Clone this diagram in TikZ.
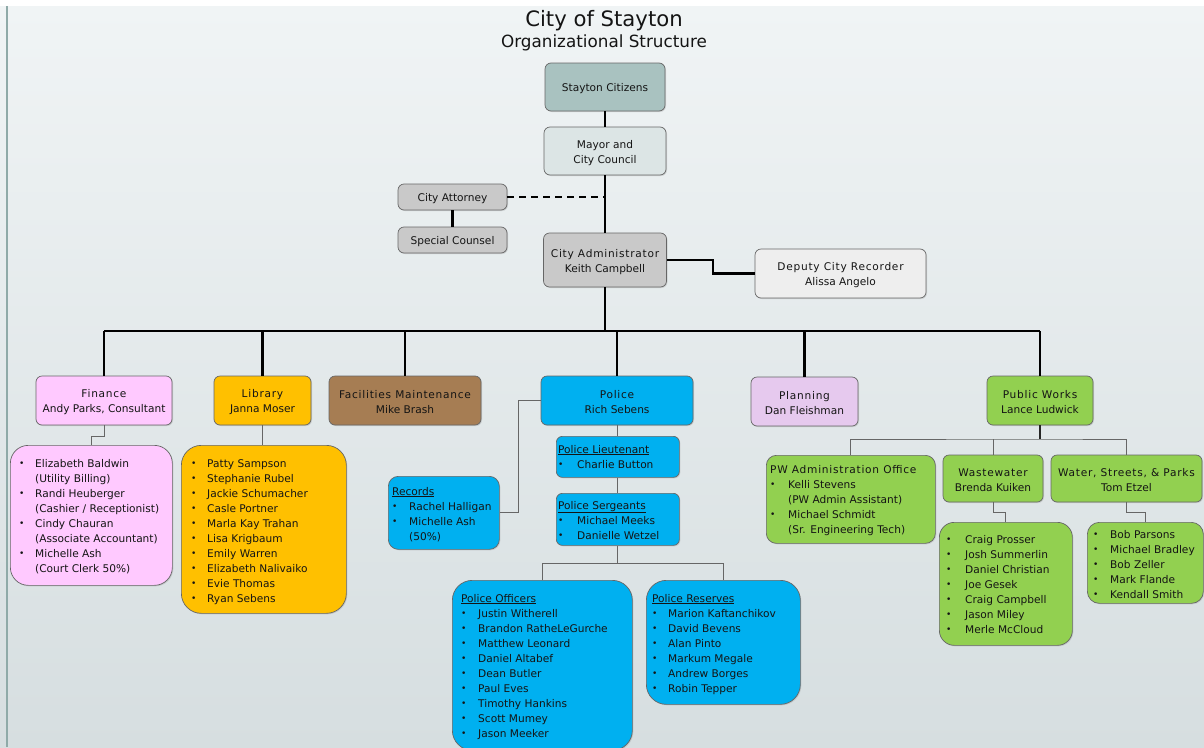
\documentclass[tikz,border=0pt]{standalone}
\usepackage{fontspec}
\setmainfont{DejaVu Sans}
\newfontfamily\hd{DejaVu Sans}[LetterSpace=7]
\usetikzlibrary{shadows,calc}
\definecolor{cCit}{HTML}{A9C2C0}
\definecolor{cMay}{HTML}{DCE5E5}
\definecolor{cGry}{HTML}{C9C9C9}
\definecolor{cDep}{HTML}{EEEEEE}
\definecolor{cFin}{HTML}{FFC9FF}
\definecolor{cLib}{HTML}{FFC000}
\definecolor{cFac}{HTML}{A67D53}
\definecolor{cPol}{HTML}{00B0F0}
\definecolor{cPln}{HTML}{E6C9EE}
\definecolor{cPw}{HTML}{92D050}
\definecolor{bgTop}{HTML}{F0F4F5}
\definecolor{bgBot}{HTML}{D6DEE0}
\definecolor{edgeC}{HTML}{8FAAA8}
\newlength\bw
\newcommand\bi[1]{\makebox[\bw][l]{\raisebox{0.4pt}{\fontsize{9}{9}\selectfont•}}#1}
\newcommand\ci[1]{\hspace*{\bw}#1}
\newcommand\fs{\fontsize{10.6}{15}\selectfont}
\newcommand\tw[2]{\rule{0pt}{12pt}#1\\#2}
\tikzset{
  box/.style={draw=black!60, line width=0.7pt, rounded corners=6pt, inner sep=0pt,
    align=center, font=\fs, text=black!92,
    drop shadow={shadow xshift=1pt, shadow yshift=-1pt, opacity=0.25}},
  lbox/.style={box, rounded corners=#1, anchor=north west},
  ltext/.style={inner sep=0pt, anchor=base west, font=\fs, text=black!92},
  conn/.style={line width=2.2pt, black},
  tconn/.style={line width=0.9pt, black!60},
}
\begin{document}
\begin{tikzpicture}[x=1pt,y=-1pt]
\useasboundingbox (0,0) rectangle (1204,747);
\fill[white] (0,0) rectangle (1204,747);
\shade[top color=bgTop, bottom color=bgBot] (0,6) rectangle (1204,747);
\draw[edgeC, line width=1.6pt] (7,6) -- (7,747);

% title
\node[anchor=base, font=\fontsize{21.2}{25}\selectfont, text=black!92] (t1) at (604,26) {City of Stayton};
\node[anchor=base, font=\fontsize{16.8}{20}\selectfont, text=black!92] (t2) at (604,47) {Organizational Structure};

% top boxes
\node[box, fill=cCit, minimum width=120pt, minimum height=48pt] (cit) at (605,87) {\rule{0pt}{12pt}Stayton Citizens};
\node[box, fill=cMay, minimum width=122pt, minimum height=48pt] (may) at (605,151) {\tw{Mayor and}{City Council}};
\node[box, fill=cGry, minimum width=109pt, minimum height=26pt] (atty) at (452.5,197) {\rule{0pt}{12pt}City Attorney};
\node[box, fill=cGry, minimum width=109pt, minimum height=26pt] (spc) at (452.5,240) {\rule{0pt}{12pt}Special Counsel};
\node[box, fill=cGry, minimum width=123pt, minimum height=54pt] (adm) at (605,260) {\tw{\hd City Administrator}{Keith Campbell}};
\node[box, fill=cDep, minimum width=171pt, minimum height=49pt] (dep) at (840.5,273.5) {\tw{\hd Deputy City Recorder}{Alissa Angelo}};

% departments
\node[box, fill=cFin, minimum width=136pt, minimum height=49pt] (fin) at (104,400.5) {\tw{\hd Finance}{Andy Parks, Consultant}};
\node[box, fill=cLib, minimum width=97pt, minimum height=49pt] (lib) at (262.5,400.5) {\tw{\hd Library}{Janna Moser}};
\node[box, fill=cFac, minimum width=152pt, minimum height=49pt] (fac) at (405,400.5) {\tw{\hd Facilities Maintenance}{Mike Brash}};
\node[box, fill=cPol, minimum width=152pt, minimum height=49pt] (pol) at (617,400.5) {\tw{\hd Police}{Rich Sebens}};
\node[box, fill=cPln, minimum width=107pt, minimum height=49pt] (pln) at (804.5,401.5) {\tw{\hd Planning}{Dan Fleishman}};
\node[box, fill=cPw, minimum width=106pt, minimum height=49pt] (pw) at (1040,400.5) {\tw{\hd Public Works}{Lance Ludwick}};

% finance list
\node[lbox=18pt, fill=cFin, minimum width=162pt, minimum height=140pt] (finl) at (10,445) {};
\node[ltext] (finlt) at ($(finl.north west)+(9,22)$) {\setlength\bw{16pt}\begin{tabular}[t]{@{}l@{}}
\bi{Elizabeth Baldwin}\\ \ci{(Utility Billing)}\\ \bi{Randi Heuberger}\\ \ci{(Cashier / Receptionist)}\\
\bi{Cindy Chauran}\\ \ci{(Associate Accountant)}\\ \bi{Michelle Ash}\\ \ci{(Court Clerk 50\%)}\end{tabular}};

% library list
\node[lbox=20pt, fill=cLib, minimum width=165pt, minimum height=168pt] (libl) at (181,445) {};
\node[ltext] (liblt) at ($(libl.north west)+(10,22)$) {\setlength\bw{16pt}\begin{tabular}[t]{@{}l@{}}
\bi{Patty Sampson}\\ \bi{Stephanie Rubel}\\ \bi{Jackie Schumacher}\\ \bi{Casle Portner}\\ \bi{Marla Kay Trahan}\\
\bi{Lisa Krigbaum}\\ \bi{Emily Warren}\\ \bi{Elizabeth Nalivaiko}\\ \bi{Evie Thomas}\\ \bi{Ryan Sebens}\end{tabular}};

% police
\node[lbox=10pt, fill=cPol, minimum width=111pt, minimum height=73pt] (rec) at (388,476) {};
\node[ltext] (rect) at ($(rec.north west)+(4,19)$) {\setlength\bw{17pt}\begin{tabular}[t]{@{}l@{}}
\underline{Records}\\ \bi{Rachel Halligan}\\ \bi{Michelle Ash}\\ \ci{(50\%)}\end{tabular}};
\node[lbox=6pt, fill=cPol, minimum width=123pt, minimum height=41pt] (lt) at (556,436) {};
\node[ltext] (ltt) at ($(lt.north west)+(2,17)$) {\setlength\bw{19pt}\begin{tabular}[t]{@{}l@{}}
\underline{Police Lieutenant}\\ \bi{Charlie Button}\end{tabular}};
\node[lbox=6pt, fill=cPol, minimum width=123pt, minimum height=52pt] (sg) at (556,493) {};
\node[ltext] (sgt) at ($(sg.north west)+(2,16)$) {\setlength\bw{19pt}\begin{tabular}[t]{@{}l@{}}
\underline{Police Sergeants}\\ \bi{Michael Meeks}\\ \bi{Danielle Wetzel}\end{tabular}};
\node[lbox=20pt, fill=cPol, minimum width=180pt, minimum height=170pt] (off) at (452,580) {};
\node[ltext] (offt) at ($(off.north west)+(9,22)$) {\setlength\bw{17pt}\begin{tabular}[t]{@{}l@{}}
\underline{Police Officers}\\ \bi{Justin Witherell}\\ \bi{Brandon RatheLeGurche}\\ \bi{Matthew Leonard}\\
\bi{Daniel Altabef}\\ \bi{Dean Butler}\\ \bi{Paul Eves}\\ \bi{Timothy Hankins}\\ \bi{Scott Mumey}\\ \bi{Jason Meeker}\end{tabular}};
\node[lbox=20pt, fill=cPol, minimum width=154pt, minimum height=124pt] (res) at (646,580) {};
\node[ltext] (rest) at ($(res.north west)+(6,22)$) {\setlength\bw{16pt}\begin{tabular}[t]{@{}l@{}}
\underline{Police Reserves}\\ \bi{Marion Kaftanchikov}\\ \bi{David Bevens}\\ \bi{Alan Pinto}\\
\bi{Markum Megale}\\ \bi{Andrew Borges}\\ \bi{Robin Tepper}\end{tabular}};

% public works
\node[lbox=10pt, fill=cPw, minimum width=169pt, minimum height=88pt] (pwa) at (766,455) {};
\node[ltext] (pwat) at ($(pwa.north west)+(4,18)$) {\setlength\bw{18pt}\begin{tabular}[t]{@{}l@{}}
{\hd PW Administration Office}\\ \bi{Kelli Stevens}\\ \ci{(PW Admin Assistant)}\\ \bi{Michael Schmidt}\\ \ci{(Sr. Engineering Tech)}\end{tabular}};
\node[box, fill=cPw, minimum width=100pt, minimum height=47pt] (wst) at (993,478.5) {\tw{\hd Wastewater}{Brenda Kuiken}};
\node[box, fill=cPw, minimum width=151pt, minimum height=47pt] (wsp) at (1126.5,478.5) {\tw{\hd Water, Streets, \& Parks}{Tom Etzel}};
\node[lbox=15pt, fill=cPw, minimum width=133pt, minimum height=123pt] (wstl) at (939,522) {};
\node[ltext] (wstlt) at ($(wstl.north west)+(7,21)$) {\setlength\bw{19pt}\begin{tabular}[t]{@{}l@{}}
\bi{Craig Prosser}\\ \bi{Josh Summerlin}\\ \bi{Daniel Christian}\\ \bi{Joe Gesek}\\ \bi{Craig Campbell}\\
\bi{Jason Miley}\\ \bi{Merle McCloud}\end{tabular}};
\node[lbox=12pt, fill=cPw, minimum width=116pt, minimum height=81pt] (wspl) at (1087,522) {};
\node[ltext] (wsplt) at ($(wspl.north west)+(6,16)$) {\setlength\bw{17pt}\begin{tabular}[t]{@{}l@{}}
\bi{Bob Parsons}\\ \bi{Michael Bradley}\\ \bi{Bob Zeller}\\ \bi{Mark Flande}\\ \bi{Kendall Smith}\end{tabular}};

% thick connectors
\draw[conn] (cit.south) -- (may.north);
\draw[conn] (may.south) -- (adm.north);
\draw[conn] (atty.south) -- (spc.north);
\draw[conn, dash pattern=on 7pt off 5pt] (atty.east) -- (atty.east -| may.south);
\draw[conn] (adm.east) -- ++(46,0) |- (dep.west);
\coordinate (bus) at (605,331);
\draw[conn] (adm.south) -- (bus);
\draw[conn] (fin.north |- bus) -- (pw.north |- bus);
\foreach \n in {fin,lib,fac,pol,pln,pw} \draw[conn] (\n.north |- bus) -- (\n.north);
\coordinate (pwbus) at (1040,439);
\draw[line width=1.6pt, black!85] (pw.south) -- (pwbus);

% thin connectors
\draw[tconn] (fin.south) -- ++(0,11) -| (finl.north);
\draw[tconn] (lib.south) -- (lib.south |- libl.north);
\draw[tconn] (pol.west) -- ++(-22,0) |- (rec.east);
\draw[tconn] (pol.south) -- (pol.south |- lt.north);
\draw[tconn] (lt.south) -- (lt.south |- sg.north);
\coordinate (pb) at ($(sg.south)+(0,18)$);
\draw[tconn] (sg.south) -- (pb);
\draw[tconn] (off.north) |- (pb) -| (res.north);
\draw[tconn] (pwa.north) |- (pwbus) -| (wsp.north);
\draw[tconn] (wst.north |- pwbus) -- (wst.north);
\draw[tconn] (wst.south) -- ++(0,10) -| (wstl.north);
\draw[tconn] (wsp.south) -- ++(0,10) -| (wspl.north);
\end{tikzpicture}
\end{document}
